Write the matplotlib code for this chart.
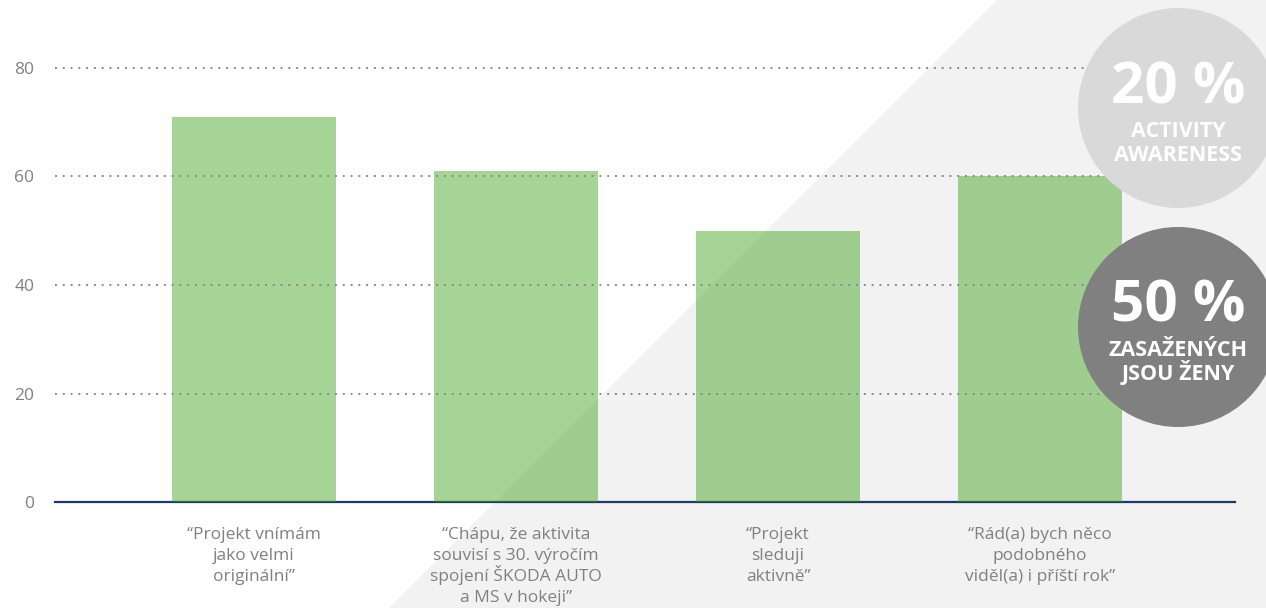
import matplotlib
matplotlib.use('Agg')
import matplotlib.pyplot as plt
from matplotlib.patches import Polygon, Circle

# Datos
categories = [
    '\u201cProjekt vnímám\njako velmi\noriginální\u201d',
    '\u201cChápu, že aktivita\nsouvisí s 30. výročím\nspojení ŠKODA AUTO\na MS v hokeji\u201d',
    '\u201cProjekt\nsleduji\naktivně\u201d',
    '\u201cRád(a) bych něco\npodobného\nviděl(a) i příští rok\u201d',
]
values = [71, 61, 50, 60]
yticks = [0, 20, 40, 60, 80]

badge_big = ['20 %', '50 %']
badge_small = [['ACTIVITY', 'AWARENESS'], ['ZASAŽENÝCH', 'JSOU ŽENY']]

# Colores
BAR = '#42a220'
GRID = '#8a8a8a'
LABEL = '#808080'
ZERO = '#1f3864'
BG_SHAPE = '#f2f2f2'
BADGE = ['#d9d9d9', '#808080']

plt.rcParams['font.family'] = ['Open Sans', 'DejaVu Sans']

W, H = 1266, 608
fig = plt.figure(figsize=(W / 100, H / 100), dpi=100)
fig.patch.set_facecolor('white')

# Fondo: franja gris diagonal
bg = fig.add_axes([0, 0, 1, 1], zorder=0)
bg.set_xlim(0, W)
bg.set_ylim(H, 0)
bg.axis('off')
bg.add_patch(Polygon([(997, 0), (W, 0), (W, H), (389, H)],
                     closed=True, facecolor=BG_SHAPE, edgecolor='none'))

# Gráfico de barras
ax = fig.add_axes([55 / W, (H - 502) / H, 1180 / W, 434 / H], zorder=1)
ax.patch.set_alpha(0)
ax.set_xlim(-0.7595, 3.744)
ax.set_ylim(0, 80)

ax.axhline(0, color=ZERO, linewidth=1.6, zorder=0.5, clip_on=False)
ax.bar(range(len(values)), values, width=0.626, color=BAR, alpha=0.47,
       zorder=1)
for y in yticks[1:]:
    ax.axhline(y, color=GRID, linewidth=1.4, linestyle=(0, (1, 3)),
               zorder=2, clip_on=False)

for s in ax.spines.values():
    s.set_visible(False)
ax.tick_params(length=0)
ax.set_yticks(yticks)
ax.set_yticklabels([str(v) for v in yticks], color=LABEL, fontsize=12.5)
ax.tick_params(axis='y', pad=15)
ax.set_xticks([])

# Etiquetas de categoría, línea por línea (interlineado uniforme)
for i, label in enumerate(categories):
    for k, line in enumerate(label.split('\n')):
        ax.annotate(line, xy=(i, 0), xytext=(0, -(26.6 + k * 15.1)),
                    textcoords='offset points', ha='center', va='baseline',
                    color=LABEL, fontsize=12.5, annotation_clip=False)

# Círculos con datos destacados
ov = fig.add_axes([0, 0, 1, 1], zorder=3)
ov.set_xlim(0, W)
ov.set_ylim(H, 0)
ov.axis('off')
ov.patch.set_alpha(0)

centers = [(1178, 108), (1178, 327)]
for i, (cx, cy) in enumerate(centers):
    ov.add_patch(Circle((cx, cy), 100, facecolor=BADGE[i], edgecolor='none'))
    ov.text(cx, cy - 5, badge_big[i], ha='center', va='baseline',
            color='white', fontsize=42, fontweight='bold')
    ov.text(cx, cy + 29, badge_small[i][0], ha='center', va='baseline',
            color='white', fontsize=15.5, fontweight='bold')
    ov.text(cx, cy + 53, badge_small[i][1], ha='center', va='baseline',
            color='white', fontsize=15.5, fontweight='bold')

plt.savefig('out.png', dpi=100, facecolor='white')
